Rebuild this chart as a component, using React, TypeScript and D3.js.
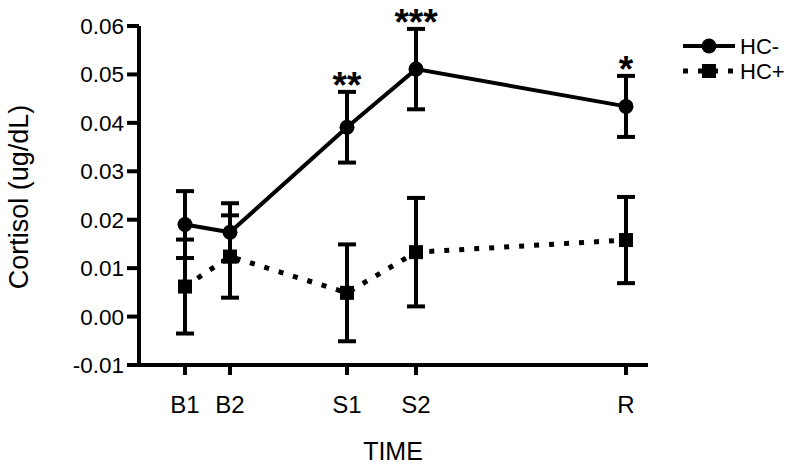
import React from "react";
import * as d3 from "d3";

const categories = ["B1", "B2", "S1", "S2", "R"];
const timePos = [0, 15, 54, 77, 147];
const hcMinusMean = [0.019, 0.0174, 0.0391, 0.0511, 0.0434];
const hcMinusErr = [0.0069, 0.006, 0.0073, 0.0083, 0.0063];
const hcPlusMean = [0.0062, 0.0124, 0.0049, 0.0133, 0.0158];
const hcPlusErr = [0.0097, 0.0085, 0.0100, 0.0112, 0.0089];
const stars = ["", "", "**", "***", "*"];
const yTicks = [-0.01, 0.0, 0.01, 0.02, 0.03, 0.04, 0.05, 0.06];
const seriesNames = ["HC-", "HC+"];

const FONT = "'Liberation Sans', Arial, sans-serif";

export default function App() {
  const x = d3.scaleLinear().domain([-15, 155]).range([140, 650]);
  const y = d3.scaleLinear().domain([-0.01, 0.06]).range([365, 26]);
  const axX = 139;
  const axY = 365;
  const fmt = (v: number) => d3.format(".2f")(v).replace("\u2212", "-");

  const line = d3
    .line<number>()
    .x((_, i) => x(timePos[i]))
    .y((d) => y(d));

  const errBars = (means: number[], errs: number[], key: string) =>
    means.map((m, i) => {
      const cx = x(timePos[i]);
      const t = y(m + errs[i]);
      const b = y(m - errs[i]);
      return (
        <g key={key + i}>
          <line x1={cx} x2={cx} y1={t} y2={b} stroke="#000" strokeWidth={4} />
          <line x1={cx - 9} x2={cx + 9} y1={t} y2={t} stroke="#000" strokeWidth={4} />
          <line x1={cx - 9} x2={cx + 9} y1={b} y2={b} stroke="#000" strokeWidth={4} />
        </g>
      );
    });

  return (
    <svg
      width={800}
      height={465}
      style={{ position: "absolute", left: 0, top: 0, background: "#fff" }}
      fontFamily={FONT}
    >
      <rect x={0} y={0} width={800} height={465} fill="#fff" />
      {/* axes */}
      <line x1={axX} x2={axX} y1={y(0.06)} y2={axY + 2} stroke="#000" strokeWidth={4} />
      <line x1={axX - 2} x2={648} y1={axY} y2={axY} stroke="#000" strokeWidth={4} />
      {yTicks.map((t) => (
        <g key={"yt" + t}>
          <line x1={127} x2={axX} y1={y(t)} y2={y(t)} stroke="#000" strokeWidth={4} />
          <text
            x={124}
            y={y(t) + 8}
            textAnchor="end"
            fontSize={22.5}
            fill="#000"
          >
            {fmt(t)}
          </text>
        </g>
      ))}
      {categories.map((c, i) => (
        <g key={"xt" + c}>
          <line x1={x(timePos[i])} x2={x(timePos[i])} y1={axY} y2={axY + 10} stroke="#000" strokeWidth={4} />
          <text x={x(timePos[i])} y={413} textAnchor="middle" fontSize={24} fill="#000">
            {c}
          </text>
        </g>
      ))}
      <text x={393} y={460} textAnchor="middle" fontSize={25} fill="#000">
        TIME
      </text>
      <text
        transform="translate(28,197) rotate(-90)"
        textAnchor="middle"
        fontSize={27}
        fill="#000"
      >
        Cortisol (ug/dL)
      </text>

      {/* HC- */}
      {errBars(hcMinusMean, hcMinusErr, "em")}
      <path d={line(hcMinusMean) || ""} fill="none" stroke="#000" strokeWidth={4} />
      {hcMinusMean.map((m, i) => (
        <circle key={"cm" + i} cx={x(timePos[i])} cy={y(m)} r={7.5} fill="#000" />
      ))}

      {/* HC+ */}
      {errBars(hcPlusMean, hcPlusErr, "ep")}
      <path
        d={line(hcPlusMean) || ""}
        fill="none"
        stroke="#000"
        strokeWidth={5}
        strokeDasharray="5 10"
      />
      {hcPlusMean.map((m, i) => (
        <rect key={"sq" + i} x={x(timePos[i]) - 7} y={y(m) - 7} width={14} height={14} fill="#000" />
      ))}

      {/* significance stars */}
      {stars.map((s, i) =>
        s ? (
          <text
            key={"st" + i}
            x={x(timePos[i])}
            y={y(hcMinusMean[i] + hcMinusErr[i]) + 6}
            textAnchor="middle"
            fontSize={37}
            fontWeight="bold"
            fill="#000"
          >
            {s}
          </text>
        ) : null
      )}

      {/* legend */}
      <g>
        <line x1={683} x2={735} y1={46} y2={46} stroke="#000" strokeWidth={4} />
        <circle cx={709} cy={46} r={7.5} fill="#000" />
        <text x={740} y={54} fontSize={22} fill="#000">
          {seriesNames[0]}
        </text>
        <line x1={683} x2={735} y1={71} y2={71} stroke="#000" strokeWidth={5} strokeDasharray="5 10" />
        <rect x={702} y={64} width={14} height={14} fill="#000" />
        <text x={740} y={79} fontSize={22} fill="#000">
          {seriesNames[1]}
        </text>
      </g>
    </svg>
  );
}
